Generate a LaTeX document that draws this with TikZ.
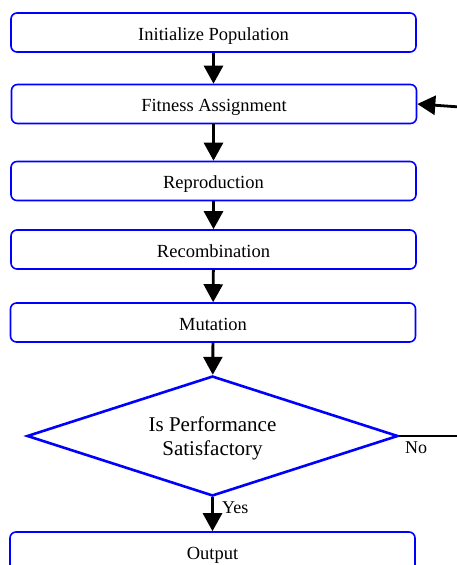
\documentclass[tikz,border=0pt]{standalone}
\usepackage{fontspec}
\setmainfont{Liberation Serif}
\usetikzlibrary{shapes.geometric,arrows.meta}

\tikzset{
  stepbox/.style={draw=blue,line width=1.6pt,rounded corners=6pt,minimum width=405pt,minimum height=39pt,inner sep=0pt,text height=15pt,text depth=0pt,font=\fontsize{18.5}{22}\selectfont},
  testbox/.style={diamond,draw=blue,line width=2.6pt,minimum width=371pt,minimum height=120pt,inner sep=0pt,aspect=3.09,align=center,text depth=0pt,font=\fontsize{21}{24}\selectfont},
  flow/.style={line width=2.8pt,-{Triangle[length=18pt,width=19pt]}},
  lbl/.style={font=\fontsize{18}{20}\selectfont,inner sep=0pt}
}

\begin{document}
\begin{tikzpicture}[x=1pt,y=-1pt]
\useasboundingbox (0,0) rectangle (457,565);
\node[stepbox] (init) at (213.5,32.5) {Initialize Population};
\node[stepbox] (fit) at (214,104) {Fitness Assignment};
\node[stepbox] (repro) at (213.5,181) {Reproduction};
\node[stepbox] (recomb) at (213.5,249.5) {Recombination};
\node[stepbox] (mut) at (213,322.5) {Mutation};
\node[testbox] (test) at (212.5,436) {Is Performance\\Satisfactory};
\node[stepbox] (out) at (212.5,551.5) {Output};
\coordinate (back) at (460,107);
\coordinate (noend) at (460,436);
% main flow
\draw[flow] (init) -- (init |- fit.north);
\draw[flow] (fit.south -| init) -- (repro);
\draw[flow] (repro) -- (recomb);
\draw[flow] (recomb) -- (mut);
\draw[flow] (mut) -- (test);
\draw[flow] (test) -- (out);
% loop back
\draw[flow] (back) -- (fit.east);
\draw[line width=2.8pt] (test.east) -- (noend);
\node[lbl,anchor=north west] (no) at (405,442) {No};
\node[lbl,anchor=west] (yes) at (222,508) {Yes};
\end{tikzpicture}
\end{document}
